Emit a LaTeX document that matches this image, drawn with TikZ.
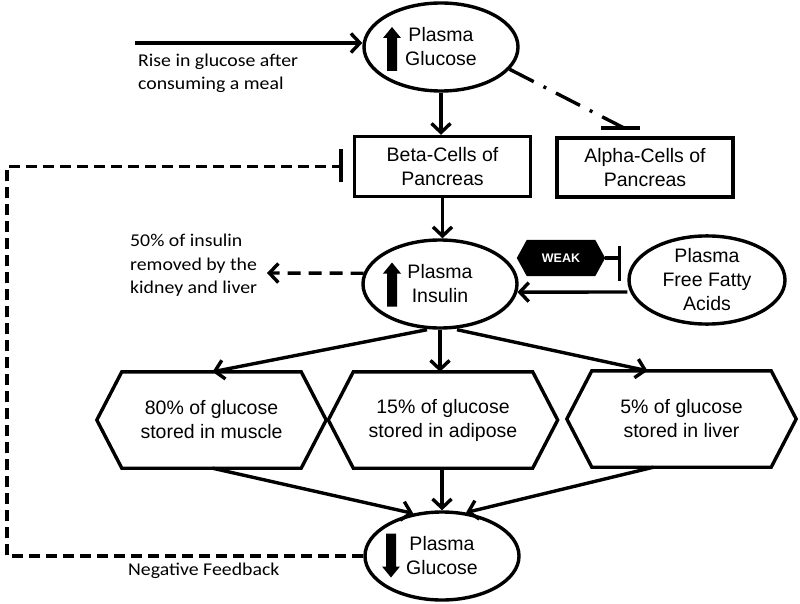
\documentclass[tikz,border=0pt]{standalone}
\usepackage{fontspec}
\setmainfont{Liberation Sans}
\newfontfamily\calib[FakeStretch=1.1]{Carlito}
\usetikzlibrary{shapes.geometric,arrows.meta}
\pgfdeclarelayer{bglayer}
\pgfsetlayers{bglayer,main}
\newcommand\dgmain{\fontsize{19.5}{24}\selectfont}
\newcommand\dgnote{\calib\fontsize{18}{23.5}\selectfont}
\begin{document}
\begin{tikzpicture}[x=1pt,y=-1pt,
  lw/.style={line width=3.4pt},
  arr/.style={lw,-{Straight Barb[length=9pt,width=19pt]}},
  ell/.style={ellipse,draw,lw,inner sep=0pt,align=center,font=\dgmain,
    minimum width=154pt,minimum height=88pt},
  rbox/.style={rectangle,draw,lw,inner sep=0pt,align=center,font=\dgmain,
    minimum width=176pt,minimum height=60pt},
  hexa/.style={rectangle,inner sep=0pt,align=center,font=\dgmain,
    minimum width=229pt,minimum height=96pt},
  note/.style={inner sep=0pt,align=left,font=\dgnote,anchor=west},
  fbdash/.style={line width=3.6pt,dash pattern=on 11pt off 6pt},
  upblock/.pic={\fill (-5,22) -- (-5,-11) -- (-9,-11) -- (0,-22) -- (9,-11) -- (5,-11) -- (5,22) -- cycle;},
  downblock/.pic={\fill (-5,-22) -- (-5,11) -- (-9,11) -- (0,22) -- (9,11) -- (5,11) -- (5,-22) -- cycle;}
]
\useasboundingbox (0,0) rectangle (800,604);

% nodes
\node[ell] (pg) at (441,47) {Plasma\\Glucose};
\node[rbox] (beta) at (442.5,166.5) {Beta-Cells of\\Pancreas};
\node[rbox,minimum height=59pt] (alpha) at (645,167.5) {Alpha-Cells of\\Pancreas};
\node[ell] (ins) at (440,284) {Plasma\\Insulin};
\node[ell,minimum width=156pt,minimum height=86pt] (ffa) at (707,280) {Plasma\\Free Fatty\\Acids};
\node[hexa] (h1) at (211.5,420) {80\% of glucose\\stored in muscle};
\node[hexa] (h2) at (443,420) {15\% of glucose\\stored in adipose};
\node[hexa] (h3) at (681.5,419) {5\% of glucose\\stored in liver};
\node[ell] (bg) at (442,556) {Plasma\\Glucose};
\node[inner sep=0pt,minimum width=88pt,minimum height=36pt,text=white,
  font=\bfseries\fontsize{12.5}{14}\selectfont] (weak) at (561,258) {WEAK};

\begin{pgfonlayer}{bglayer}
\fill (weak.west) -- ([xshift=10]weak.north west) -- ([xshift=-10]weak.north east)
  -- (weak.east) -- ([xshift=-10]weak.south east) -- ([xshift=10]weak.south west) -- cycle;
\end{pgfonlayer}

% hexagon outlines
\foreach \h in {h1,h2,h3}{
  \draw[lw,line join=miter] (\h.west) -- ([xshift=25]\h.north west) -- ([xshift=-25]\h.north east)
    -- (\h.east) -- ([xshift=-25]\h.south east) -- ([xshift=25]\h.south west) -- cycle;
}

% block arrows
\pic at (392,49) {upblock};
\pic at (392,284.5) {upblock};
\pic at (391,555.5) {downblock};

% notes
\node[note] (rise) at (138,73.5) {Rise in glucose after\\consuming a meal};
\node[note] (removed) at (130,265.5) {50\% of insulin\\removed by the\\kidney and liver};
\node[note] (negfb) at (128,571) {Negative Feedback};

% connectors
\coordinate (riseStart) at (135,43);
\draw[arr] (riseStart) -- (riseStart -| pg.west);
\draw[arr] (pg.south) -- (pg.south |- beta.north);
\coordinate (alphaT) at (624,128);
\draw[lw,dash pattern=on 27pt off 11pt on 3pt off 11pt] (pg.-18) -- (alphaT);
\draw[lw] ([xshift=-23]alphaT) -- ([xshift=16]alphaT);
\draw[arr] (beta.south) -- (beta.south |- ins.north);
\coordinate (remEnd) at (267,273);
\draw[lw,dash pattern=on 13pt off 8pt,-{Straight Barb[length=9pt,width=19pt]}] (ins.172) -- (remEnd);
\draw[arr] ([yshift=-12]ffa.west) -- (ins.-6);
\draw[lw] (weak.east) -- ++(14,0) coordinate (wbar);
\draw[lw] ([yshift=12]wbar) -- ([yshift=-23]wbar);
\draw[arr] ([xshift=-13]ins.south) -- ([xshift=1]h1.north);
\draw[arr] (ins.south) -- (ins.south |- h2.north);
\draw[arr] ([xshift=17]ins.south) -- ([xshift=-34]h3.north);
\draw[arr] ([xshift=1]h1.south) -- (bg.124);
\draw[arr] (bg.north |- h2.south) -- (bg.north);
\draw[arr] ([xshift=-28]h3.south) -- (bg.61);

% negative feedback
\coordinate (fbL) at (7,556);
\coordinate (fbEnd) at ([xshift=-12]beta.west);
\draw[fbdash] (bg.west) -- (bg.west -| fbL) |- (fbEnd);
\draw[lw] ([yshift=-16]fbEnd) -- ([yshift=17]fbEnd);
\end{tikzpicture}
\end{document}
